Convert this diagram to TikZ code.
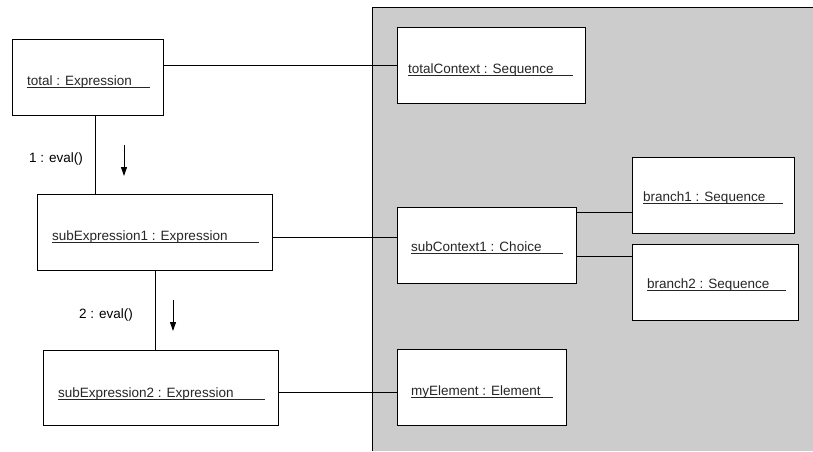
\documentclass[tikz,border=0pt]{standalone}
\usepackage{fontspec}
\setmainfont{Liberation Sans}
\usetikzlibrary{arrows.meta,calc}
\begin{document}
\begin{tikzpicture}[x=1pt,y=-1pt,
  box/.style={draw=black,fill=white,line width=1pt,rectangle,inner sep=0pt,anchor=north west},
  lbl/.style={font=\fontsize{13.5}{15}\selectfont,anchor=base west,inner sep=0pt,text=black!85},
  msg/.style={font=\fontsize{13.5}{15}\selectfont,anchor=center,inner sep=0pt},
  ul/.style={line width=0.9pt,black!85},
  link/.style={line width=1pt},
  marrow/.style={line width=1pt,-{Triangle[length=9pt,width=6pt]}}]
\useasboundingbox (0,0) rectangle (813,451);
% gray region
\fill[black!20] (372,7) rectangle (813,451);
\draw[line width=1pt] (372,451) -- (372,7) -- (813,7);
% boxes
\node[box,minimum width=151pt,minimum height=76pt] (total) at (12,39) {};
\node[box,minimum width=235pt,minimum height=76pt] (sub1) at (37,194) {};
\node[box,minimum width=235pt,minimum height=75pt] (sub2) at (43,350) {};
\node[box,minimum width=188pt,minimum height=76pt] (tctx) at (397,27) {};
\node[box,minimum width=179pt,minimum height=76pt] (sctx) at (397,207) {};
\node[box,minimum width=162pt,minimum height=76pt] (br1) at (632,157) {};
\node[box,minimum width=166pt,minimum height=76pt] (br2) at (632,244) {};
\node[box,minimum width=169pt,minimum height=76pt] (myel) at (397,349) {};
% labels
\node[lbl] (tl) at (27,85) {total : Expression};
\draw[ul] (27,87) -- (150,87);
\node[lbl] (s1l) at (52,240) {subExpression1 : Expression};
\draw[ul] (52,242) -- (259,242);
\node[lbl] (s2l) at (58,397) {subExpression2 : Expression};
\draw[ul] (58,399) -- (265,399);
\node[lbl] (tcl) at (408,73) {totalContext : Sequence};
\draw[ul] (408,75) -- (573,75);
\node[lbl] (scl) at (411,251) {subContext1 : Choice};
\draw[ul] (411,253) -- (563,253);
\node[lbl] (b1l) at (643,201) {branch1 : Sequence};
\draw[ul] (643,203) -- (783,203);
\node[lbl] (b2l) at (647,288) {branch2 : Sequence};
\draw[ul] (647,290) -- (786,290);
\node[lbl] (mel) at (411,395) {myElement : Element};
\draw[ul] (411,397) -- (553,397);
% links
\draw[link] (total.east |- 0,65) -- (tctx.west |- 0,65);
\draw[link] (sub1.east |- 0,237) -- (sctx.west |- 0,237);
\draw[link] (sub2.east |- 0,392) -- (myel.west |- 0,392);
\draw[link] (sctx.east |- 0,212) -- (br1.west |- 0,212);
\draw[link] (sctx.east |- 0,256) -- (br2.west |- 0,256);
\draw[link] (total.south -| 95,0) -- (sub1.north -| 95,0);
\draw[link] (sub1.south -| 155,0) -- (sub2.north -| 155,0);
% messages
\node[msg] (m1) at (56,159) {1 : eval()};
\coordinate (a1s) at (124,145);
\coordinate (a1e) at (124,176);
\draw[marrow] (a1s) -- (a1e);
\node[msg] (m2) at (106,315) {2 : eval()};
\coordinate (a2s) at (173,300);
\coordinate (a2e) at (173,331);
\draw[marrow] (a2s) -- (a2e);
\end{tikzpicture}
\end{document}
